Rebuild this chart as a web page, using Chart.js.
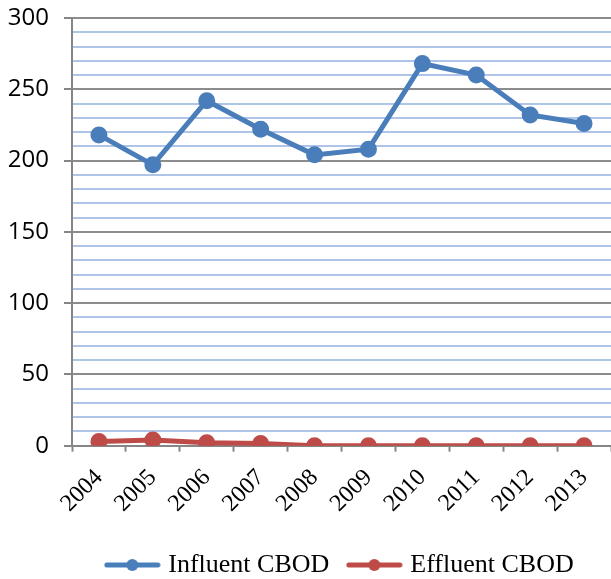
<!DOCTYPE html>
<html>
<head>
<meta charset="utf-8">
<script src="https://cdn.jsdelivr.net/npm/chart.js@4"></script>
<style>
  html, body { margin: 0; padding: 0; background: #fff; }
  #wrap { width: 611px; height: 579px; }
</style>
</head>
<body>
<div id="wrap"><canvas id="myChart" width="611" height="579"></canvas></div>
<script>
var years = ['2004', '2005', '2006', '2007', '2008', '2009', '2010', '2011', '2012', '2013'];
var influent = [218, 197, 242, 222, 204, 208, 268, 260, 232, 226];
var effluent = [3, 4, 2, 1.5, 0, 0, 0, 0, 0, 0];
var yMin = 0, yMax = 300, yStep = 10, yLabelStep = 50;

// little line-with-dot marker for the legend
function legendMarker(color) {
  var c = document.createElement('canvas');
  c.width = 57; c.height = 14;
  var g = c.getContext('2d');
  g.strokeStyle = color;
  g.lineWidth = 5;
  g.lineCap = 'round';
  g.beginPath(); g.moveTo(3, 7); g.lineTo(54, 7); g.stroke();
  g.fillStyle = color;
  g.beginPath(); g.arc(28.5, 7, 6, 0, Math.PI * 2); g.fill();
  return c;
}

var blue = '#4a7ebb';
var red = '#be4b48';
var serif = '"Liberation Serif", "Times New Roman", serif';

var ctx = document.getElementById('myChart');
var myChart = new Chart(ctx, {
  type: 'line',
  data: {
    labels: years,
    datasets: [
      {
        label: 'Influent CBOD',
        data: influent,
        borderColor: blue,
        backgroundColor: blue,
        borderWidth: 5,
        pointRadius: 6,
        pointHoverRadius: 6,
        tension: 0
      },
      {
        label: 'Effluent CBOD',
        data: effluent,
        borderColor: red,
        backgroundColor: red,
        borderWidth: 5,
        pointRadius: 6,
        pointHoverRadius: 6,
        tension: 0
      }
    ]
  },
  options: {
    responsive: false,
    animation: false,
    layout: { autoPadding: false, padding: { top: 18, right: 0, bottom: -9, left: 0 } },
    plugins: {
      tooltip: { enabled: false },
      legend: {
        position: 'bottom',
        fullSize: false,
        labels: {
          usePointStyle: true,
          pointStyleWidth: 46,
          color: '#000',
          padding: 22,
          font: { family: serif, size: 26 },
          generateLabels: function (chart) {
            return chart.data.datasets.map(function (ds, i) {
              return {
                text: ds.label,
                pointStyle: legendMarker(ds.borderColor),
                fillStyle: ds.borderColor,
                strokeStyle: ds.borderColor,
                lineWidth: 0,
                hidden: false,
                datasetIndex: i
              };
            });
          }
        }
      }
    },
    scales: {
      x: {
        offset: true,
        afterFit: function (scale) { scale.paddingLeft = 0; scale.paddingRight = 0; },
        grid: {
          offset: true,
          drawOnChartArea: false,
          tickLength: 6,
          tickColor: '#868686',
          tickWidth: 2
        },
        border: { color: '#868686', width: 2 },
        ticks: {
          color: '#000',
          minRotation: 45,
          maxRotation: 45,
          padding: 12,
          font: { family: serif, size: 24 }
        }
      },
      y: {
        min: yMin,
        max: yMax,
        afterFit: function (scale) {
          scale.width = 72;
          scale.paddingTop = 0;
          scale.paddingBottom = 0;
        },
        grid: {
          color: function (c) {
            return c.tick && c.tick.value % yLabelStep === 0 ? '#8c8c8c' : '#aec4e8';
          },
          lineWidth: 2,
          tickLength: 8,
          tickColor: function (c) {
            return c.tick && c.tick.value % yLabelStep === 0 ? '#868686' : 'rgba(0,0,0,0)';
          }
        },
        border: { color: '#868686', width: 2 },
        ticks: {
          stepSize: yStep,
          autoSkip: false,
          color: '#000',
          padding: 15,
          font: { family: '"Open Sans", "Liberation Sans", sans-serif', size: 24 },
          callback: function (v) { return v % yLabelStep === 0 ? v : ''; }
        }
      }
    }
  }
});
</script>
</body>
</html>
